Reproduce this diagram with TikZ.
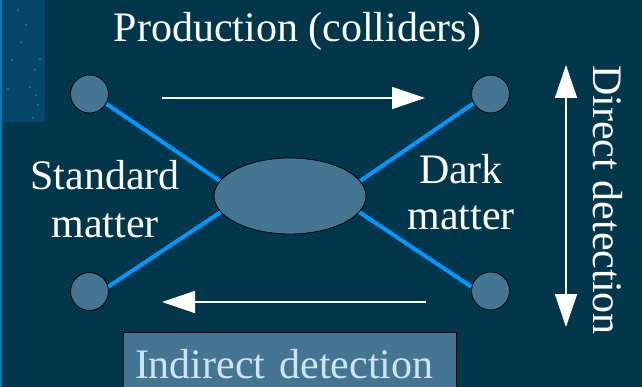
\documentclass[tikz,border=0pt]{standalone}
\usepackage{fontspec}
\setmainfont{Liberation Serif}
\usetikzlibrary{arrows.meta,backgrounds,shapes.geometric}
\definecolor{bgcol}{RGB}{2,54,74}
\definecolor{stripcol}{RGB}{6,70,104}
\definecolor{edgecol}{RGB}{0,125,185}
\definecolor{shapecol}{RGB}{68,117,147}
\definecolor{linkcol}{RGB}{0,152,255}
\definecolor{indtext}{RGB}{205,228,250}
\tikzset{
  particle/.style={circle,draw=black,line width=0.8pt,fill=shapecol,minimum size=38pt,inner sep=0pt,outer sep=0pt},
  blob/.style={ellipse,draw=black,line width=0.8pt,fill=shapecol,minimum width=152pt,minimum height=76pt,inner sep=0pt,outer sep=0pt},
  link/.style={draw=linkcol,line width=4pt},
  flow/.style={draw=white,line width=1.5pt,-{Triangle[length=33pt,width=22pt]}},
  biflow/.style={draw=white,line width=1.5pt,{Triangle[length=33pt,width=22pt]}-{Triangle[length=33pt,width=22pt]}},
  label/.style={text=white,font=\fontsize{42}{48}\selectfont,inner sep=0pt,outer sep=0pt}
}
\begin{document}
\begin{tikzpicture}[x=1pt,y=-1pt]
\useasboundingbox (0,0) rectangle (642,387);
\begin{scope}[on background layer]
  \fill[bgcol] (0,0) rectangle (642,387);
  \fill[stripcol] (0,0) rectangle (45,122);
  \foreach \p in {(26,25),(21,42),(40,59),(12,60),(35,70),(30,87),(36,95),(8,89),(38,105),(33,118),(18,10)}
    \fill[white,opacity=0.35] \p circle (0.8);
  \fill[edgecol] (0,0) rectangle (1.5,387);
\end{scope}

\node[particle] (tl) at (89.5,94) {};
\node[particle] (tr) at (490.5,94) {};
\node[particle] (bl) at (89.5,291.5) {};
\node[particle] (br) at (490.5,291) {};
\node[blob] (e) at (290,196) {};

\begin{scope}[on background layer]
  \draw[link] (tl.-30) -- (e.168);
  \draw[link] (tr.-151) -- (e.12);
  \draw[link] (bl.14) -- (e.193);
  \draw[link] (br.168) -- (e.-13);
\end{scope}

\node[label,anchor=base] (prod) at (297.5,42) {Production (colliders)};
\node[label,anchor=base,align=center] (std) at (105,238) {Standard\\matter};
\node[label,anchor=base,align=center,font=\fontsize{42}{47}\selectfont] (dark) at (461,230) {Dark\\matter};
\node[label,anchor=base,rotate=-90] (direct) at (593,200) {Direct detection};

\coordinate (pa) at (162,98);
\coordinate (pb) at (425,98);
\coordinate (ia) at (426,302);
\coordinate (ib) at (162,302);
\coordinate (da) at (566,65);
\coordinate (db) at (566,327);
\draw[flow] (pa) -- (pb);
\draw[flow] (ia) -- (ib);
\draw[biflow] (da) -- (db);

\node[draw=black,line width=0.8pt,fill=shapecol,anchor=north west,
      minimum width=333pt,inner xsep=12pt,inner ysep=10pt,outer sep=0pt,
      text width=309pt,align=left,text height=36pt,text depth=4pt,
      text=indtext,font=\fontsize{42}{48}\selectfont] (ind) at (123,332) {Indirect detection};
\end{tikzpicture}
\end{document}
